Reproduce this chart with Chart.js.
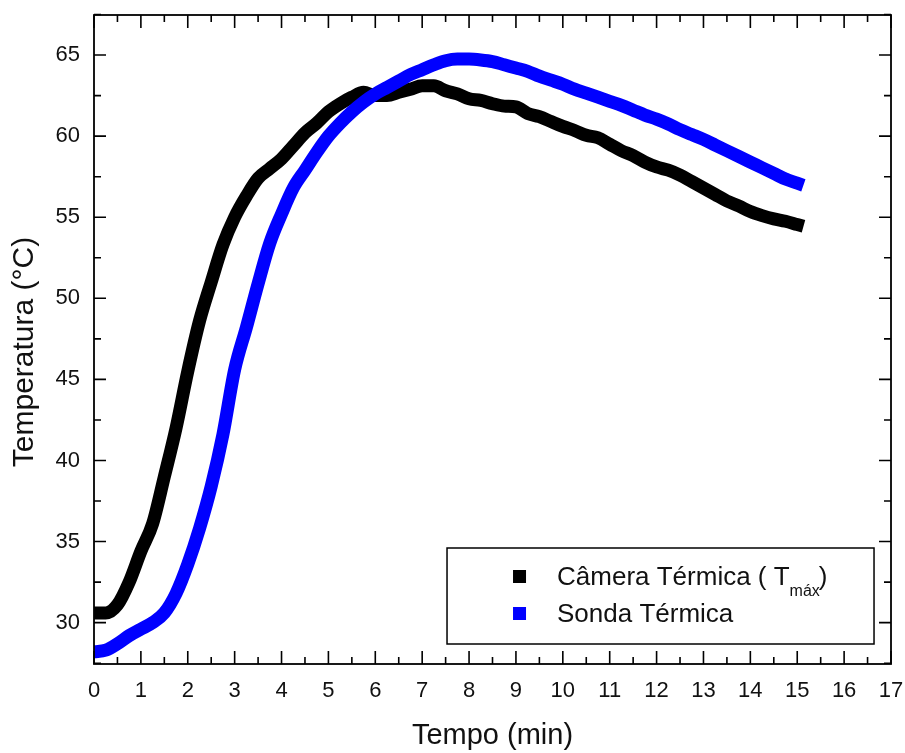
<!DOCTYPE html>
<html>
<head>
<meta charset="utf-8">
<script src="https://cdn.jsdelivr.net/npm/chart.js@4.4.1/dist/chart.umd.min.js"></script>
<style>
  html, body { margin: 0; padding: 0; background: #ffffff; }
  #wrap { width: 905px; height: 753px; }
</style>
</head>
<body>
<div id="wrap"><canvas id="c" width="905" height="753"></canvas></div>
<script>
// ---- data ----
const timeMin = [0,0.25,0.5,0.75,1,1.25,1.5,1.75,2,2.25,2.5,2.75,3,3.25,3.5,3.75,4,4.25,4.5,4.75,5,5.25,5.5,5.75,6,6.25,6.5,6.75,7,7.25,7.5,7.75,8,8.25,8.5,8.75,9,9.25,9.5,9.75,10,10.25,10.5,10.75,11,11.25,11.5,11.75,12,12.25,12.5,12.75,13,13.25,13.5,13.75,14,14.25,14.5,14.75,15];
const cameraTmax = [30.6,30.6,31.1,32.5,34.4,36.1,39.0,42.0,45.5,48.6,51.0,53.3,55.0,56.3,57.4,58.0,58.6,59.4,60.2,60.8,61.5,62.0,62.4,62.7,62.5,62.5,62.7,62.9,63.1,63.1,62.8,62.6,62.3,62.2,62.0,61.85,61.8,61.4,61.2,60.9,60.6,60.35,60.05,59.9,59.5,59.1,58.8,58.4,58.1,57.9,57.6,57.2,56.8,56.4,56.0,55.7,55.35,55.1,54.9,54.75,54.55];
const sondaTermica = [28.2,28.3,28.7,29.2,29.6,30.0,30.6,31.8,33.6,35.8,38.4,41.6,45.6,48.2,50.9,53.4,55.2,56.8,57.9,59.0,60.0,60.8,61.5,62.1,62.6,63.0,63.4,63.8,64.1,64.4,64.65,64.75,64.75,64.7,64.6,64.4,64.2,64.0,63.7,63.45,63.2,62.9,62.65,62.4,62.15,61.9,61.6,61.3,61.05,60.75,60.4,60.1,59.8,59.45,59.1,58.75,58.4,58.05,57.7,57.35,57.1];
const xTicks = [0,1,2,3,4,5,6,7,8,9,10,11,12,13,14,15,16,17];
const yTicks = [30,35,40,45,50,55,60,65];
const xMinorTicks = [0.5,1.5,2.5,3.5,4.5,5.5,6.5,7.5,8.5,9.5,10.5,11.5,12.5,13.5,14.5,15.5,16.5];
const yMinorTicks = [27.5,32.5,37.5,42.5,47.5,52.5,57.5,62.5,67.5];
const seriesNames = ["Câmera Térmica ( T", "Sonda Térmica"];
const subscriptText = "máx";
const seriesColors = ["#000000", "#0000ff"];
const xTitle = "Tempo (min)";
const yTitle = "Temperatura (°C)";

const FONT = "'Liberation Sans', Arial, Helvetica, sans-serif";

// frame, inward ticks, y title and in-plot legend
const framePlugin = {
  id: 'frame',
  afterDatasetsDraw(chart) {
    const {ctx, chartArea: a, scales: {x, y}} = chart;
    ctx.save();
    ctx.strokeStyle = '#000';
    ctx.lineWidth = 1.8;
    ctx.strokeRect(a.left, a.top, a.right - a.left, a.bottom - a.top);
    ctx.lineWidth = 1.6;
    ctx.beginPath();
    const tickX = (v, len) => {
      const px = x.getPixelForValue(v);
      ctx.moveTo(px, a.bottom); ctx.lineTo(px, a.bottom - len);
      ctx.moveTo(px, a.top); ctx.lineTo(px, a.top + len);
    };
    const tickY = (v, len) => {
      const py = y.getPixelForValue(v);
      ctx.moveTo(a.left, py); ctx.lineTo(a.left + len, py);
      ctx.moveTo(a.right, py); ctx.lineTo(a.right - len, py);
    };
    xTicks.forEach(v => tickX(v, 13));
    xMinorTicks.forEach(v => tickX(v, 7));
    yTicks.forEach(v => tickY(v, 12));
    yMinorTicks.forEach(v => tickY(v, 7));
    ctx.stroke();

    // y axis title
    ctx.save();
    ctx.translate(25, 352);
    ctx.rotate(-Math.PI / 2);
    ctx.font = '30px ' + FONT;
    ctx.fillStyle = '#111';
    ctx.textAlign = 'center';
    ctx.textBaseline = 'middle';
    ctx.fillText(yTitle, 0, 0);
    ctx.restore();

    // legend
    const bx = x.getPixelForValue(7.53), by = 548, bw = 427, bh = 96;
    ctx.fillStyle = '#fff';
    ctx.fillRect(bx, by, bw, bh);
    ctx.lineWidth = 1.5;
    ctx.strokeRect(bx, by, bw, bh);
    const rows = [585, 622];
    ctx.textBaseline = 'alphabetic';
    ctx.textAlign = 'left';
    seriesNames.forEach((name, i) => {
      ctx.fillStyle = seriesColors[i];
      ctx.fillRect(bx + 66, rows[i] - 15, 13, 13);
      ctx.fillStyle = '#111';
      ctx.font = '26px ' + FONT;
      const tx = bx + 110;
      ctx.fillText(name, tx, rows[i]);
      if (i === 0) {
        const w = ctx.measureText(name).width;
        ctx.font = '16px ' + FONT;
        ctx.fillText(subscriptText, tx + w, rows[i] + 11);
        const ws = ctx.measureText(subscriptText).width;
        ctx.font = '26px ' + FONT;
        ctx.fillText(")", tx + w + ws - 1, rows[i]);
      }
    });
    ctx.restore();
  }
};

const ctxEl = document.getElementById('c');
new Chart(ctxEl, {
  type: 'line',
  data: {
    datasets: [
      {
        label: seriesNames[1],
        data: timeMin.map((t, i) => ({x: t, y: sondaTermica[i]})),
        borderColor: seriesColors[1],
        backgroundColor: seriesColors[1],
        borderWidth: 13,
        pointRadius: 0,
        borderCapStyle: 'square',
        borderJoinStyle: 'round',
        cubicInterpolationMode: 'monotone',
        order: 0
      },
      {
        label: seriesNames[0] + subscriptText + ")",
        data: timeMin.map((t, i) => ({x: t, y: cameraTmax[i]})),
        borderColor: seriesColors[0],
        backgroundColor: seriesColors[0],
        borderWidth: 13,
        pointRadius: 0,
        borderCapStyle: 'square',
        borderJoinStyle: 'round',
        cubicInterpolationMode: 'monotone',
        order: 1
      }
    ]
  },
  options: {
    responsive: false,
    animation: false,
    devicePixelRatio: 1,
    layout: { padding: { left: 0, top: 15, right: 14, bottom: 0 } },
    plugins: { legend: { display: false }, tooltip: { enabled: false } },
    scales: {
      x: {
        type: 'linear',
        min: 0, max: 17,
        afterBuildTicks: s => { s.ticks = xTicks.map(v => ({value: v})); },
        afterFit: s => { s.height = 89; s.paddingLeft = 0; s.paddingRight = 0; },
        grid: { display: false, drawTicks: false },
        border: { display: false },
        ticks: { color: '#111', font: { family: FONT, size: 22 }, padding: 14, maxRotation: 0, autoSkip: false },
        title: { display: true, text: xTitle, color: '#111', font: { family: FONT, size: 29 }, padding: { top: 0, bottom: 0 } }
      },
      y: {
        type: 'linear',
        min: 27.45, max: 67.47,
        afterBuildTicks: s => { s.ticks = yTicks.map(v => ({value: v})); },
        afterFit: s => { s.width = 94; s.paddingTop = 0; s.paddingBottom = 0; },
        grid: { display: false, drawTicks: false },
        border: { display: false },
        ticks: { color: '#111', font: { family: FONT, size: 22 }, padding: 14, autoSkip: false },
        title: { display: false, text: yTitle }
      }
    }
  },
  plugins: [framePlugin]
});
</script>
</body>
</html>
